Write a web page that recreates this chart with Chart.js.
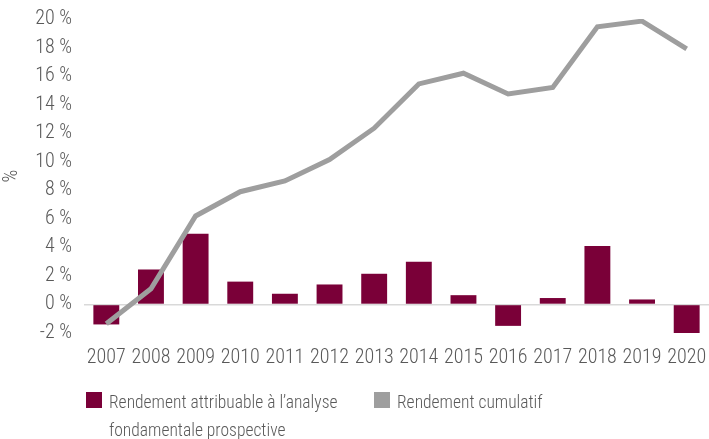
<!DOCTYPE html>
<html lang="fr">
<head>
<meta charset="utf-8">
<script src="https://cdn.jsdelivr.net/npm/chart.js@4"></script>
<style>
  html, body { margin: 0; padding: 0; background: #fff; }
  #wrap { position: relative; width: 709px; height: 439px; }
  #chart { position: absolute; left: 0; top: 0; }
  .legend { position: absolute; top: 388px; font-family: Roboto, sans-serif; font-weight: 300; font-stretch: condensed; font-size: 17.5px; color: #595959; line-height: 28px; }
  .legend .box { position: absolute; left: 0; top: 4px; width: 16px; height: 16px; }
  .legend .txt { position: absolute; left: 23px; top: 0; white-space: nowrap; }
</style>
</head>
<body>
<div id="wrap">
  <canvas id="chart" width="709" height="439"></canvas>
  <div class="legend" style="left:86px">
    <span class="box" style="background:#7a0038"></span>
    <span class="txt">Rendement attribuable à l’analyse<br>fondamentale prospective</span>
  </div>
  <div class="legend" style="left:374px">
    <span class="box" style="background:#9e9e9e"></span>
    <span class="txt">Rendement cumulatif</span>
  </div>
</div>
<script>
const years = ['2007', '2008', '2009', '2010', '2011', '2012', '2013', '2014', '2015', '2016', '2017', '2018', '2019', '2020'];
// yearly return attributable to forward-looking fundamental analysis (%)
const annualReturn = [-1.4, 2.45, 4.95, 1.6, 0.75, 1.4, 2.15, 3.0, 0.65, -1.5, 0.45, 4.1, 0.35, -2.0];
// cumulative return (%)
const cumulativeReturn = [-1.35, 1.1, 6.2, 7.9, 8.65, 10.15, 12.35, 15.45, 16.2, 14.75, 15.2, 19.45, 19.85, 17.9];
const yTicks = [-2, 0, 2, 4, 6, 8, 10, 12, 14, 16, 18, 20];

// light condensed Roboto (variable width axis)
const FONT = { family: 'Roboto, sans-serif', size: 20, weight: '300 condensed' };
const TEXT = '#595959';

new Chart(document.getElementById('chart'), {
  data: {
    labels: years,
    datasets: [
      {
        type: 'line',
        label: 'Rendement cumulatif',
        data: cumulativeReturn,
        borderColor: '#9e9e9e',
        borderWidth: 5,
        pointRadius: 0,
        tension: 0,
        order: 0
      },
      {
        type: 'bar',
        label: 'Rendement attribuable à l’analyse fondamentale prospective',
        data: annualReturn,
        backgroundColor: '#7a0038',
        categoryPercentage: 1,
        barPercentage: 0.58,
        order: 1
      }
    ]
  },
  options: {
    responsive: false,
    animation: false,
    layout: { padding: { top: 19, right: 0, bottom: 0, left: 0 } },
    plugins: { legend: { display: false }, tooltip: { enabled: false } },
    scales: {
      x: {
        offset: true,
        grid: { display: false, drawTicks: false },
        border: { display: false },
        ticks: { color: TEXT, font: FONT, padding: 13, maxRotation: 0, autoSkip: false },
        // fixed axis band; no extra room reserved for the end labels
        afterFit: s => { s.height = 106; s.paddingLeft = 0; s.paddingRight = 0; }
      },
      y: {
        min: -2,
        max: 20,
        afterBuildTicks: s => { s.ticks = yTicks.map(v => ({ value: v })); },
        grid: {
          drawTicks: false,
          lineWidth: 1.5,
          color: c => (c.tick && c.tick.value === 0 ? '#d9d9d9' : 'rgba(0,0,0,0)')
        },
        border: { display: false },
        ticks: { color: TEXT, font: FONT, padding: 12, callback: v => v + ' %' },
        title: { display: true, text: '%', color: TEXT, font: FONT, padding: 0 },
        afterFit: s => { s.width = 84; s.paddingTop = 0; s.paddingBottom = 0; }
      }
    }
  }
});
</script>
</body>
</html>
